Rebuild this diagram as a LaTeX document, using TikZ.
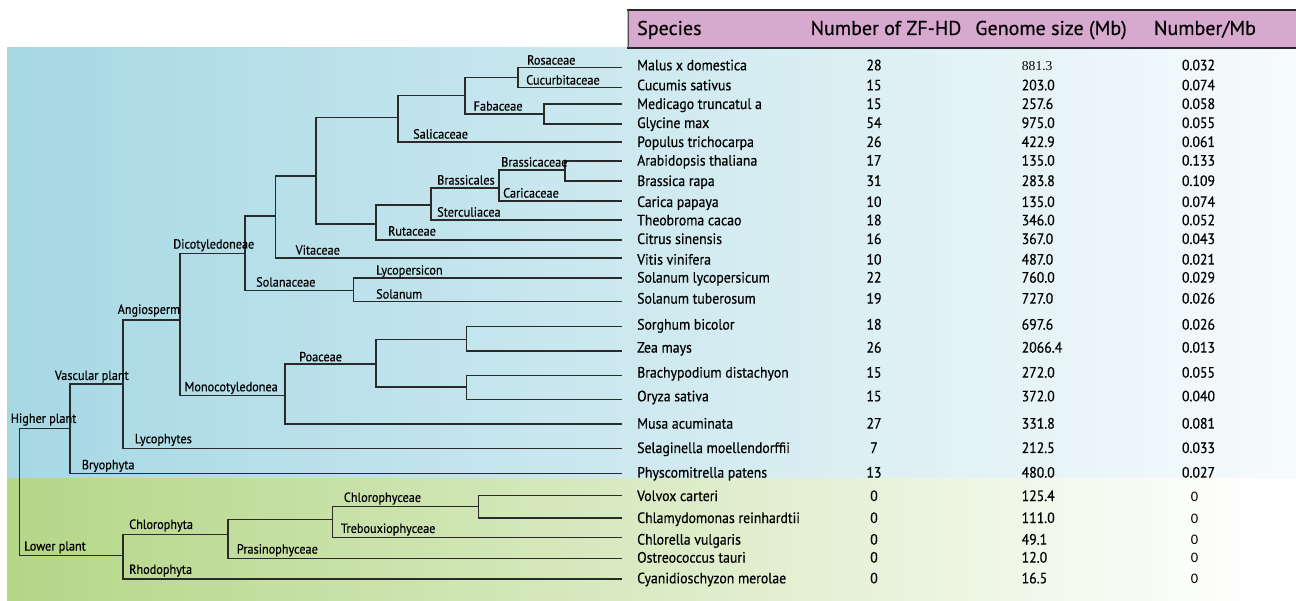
\documentclass[tikz,border=0pt]{standalone}
\usepackage{fontspec}
\setmainfont{PT Sans}[FakeBold=0.35]
\newfontfamily\cond{PT Sans}[FakeStretch=0.92,FakeBold=0.45]
\newfontfamily\serifnum{Liberation Serif}
\newfontfamily\zerofont{Carlito}
\definecolor{hdrpink}{HTML}{D8A9CF}
\definecolor{bluel}{HTML}{A6D8E4}
\definecolor{bluem}{HTML}{CBE7EE}
\definecolor{bluer}{HTML}{F7FBFC}
\definecolor{greenl}{HTML}{B4D687}
\definecolor{greenm}{HTML}{D6E9B8}
\definecolor{treeline}{HTML}{2A2A2A}
\tikzset{
  branch/.style={draw=treeline, line width=1.5pt},
  clade/.style={font=\cond\fontsize{13.3}{15}\selectfont, anchor=base west, inner sep=0pt},
  spname/.style={font=\cond\fontsize{15}{17}\selectfont, anchor=base west, inner sep=0pt},
  numc/.style={font=\cond\fontsize{15}{17}\selectfont, anchor=base, inner sep=0pt},
  gencol/.style={font=\cond\fontsize{15}{17}\selectfont, anchor=base west, inner sep=0pt},
  hdr/.style={font=\fontsize{20}{22}\selectfont, anchor=base, inner sep=0pt},
  hdrrule/.style={draw=black!85, line width=2pt},
}
\begin{document}
\begin{tikzpicture}[x=1pt,y=-1pt]
\useasboundingbox (0,0) rectangle (1296,601);
% background bands
\shade[left color=bluel, middle color=bluem, right color=bluer] (7,47.5) rectangle (1296,478);
\shade[left color=greenl, middle color=greenm, right color=white] (7,478) rectangle (1260,600);
% header
\fill[hdrpink] (627,10) rectangle (1296,48);
\draw[hdrrule] (627,10) -- (1296,10);
\draw[hdrrule] (627,48) -- (1296,48);
\draw[draw=black!70, line width=0.8pt] (628,10) -- (628,48);
\node[hdr, anchor=base west] (hSpecies) at (637,35) {Species};
\node[hdr] (hNum) at (886,35) {Number of ZF-HD};
\node[hdr] (hGen) at (1051,35) {Genome size (Mb)};
\node[hdr] (hRatio) at (1205,35) {Number/Mb};
% leaves
\foreach \nm/\yy in {Malus/67.7, Cucumis/87.3, Medicago/104, Glycine/124, Populus/142,
  Arabid/161, Brassica/181, Carica/201, Theo/220, Citrus/240, Vitis/258, SolLyc/278,
  SolTub/301.7, Sorghum/326.7, Zea/351, Brachy/375.3, Oryza/399.3, Musa/424,
  Selag/448.7, Physco/473.7, Volvox/495.7, Chlamy/518, Chlorella/537.3,
  Ostreo/558.3, Cyanid/579}
  \coordinate (l\nm) at (622,\yy);
% internal nodes
\coordinate (nRC) at (518,77.7);
\coordinate (nFab) at (544,114);
\coordinate (nRCF) at (465,95.3);
\coordinate (nRos) at (398,117.7);
\coordinate (nBrc) at (565,170);
\coordinate (nBrl) at (499,188);
\coordinate (nMal) at (431,205);
\coordinate (nRut) at (376,224);
\coordinate (nRsd) at (316,176);
\coordinate (nVit) at (275.5,216);
\coordinate (nSol) at (353.5,290.7);
\coordinate (nDic) at (245,253.7);
\coordinate (nSZ) at (466.5,339.3);
\coordinate (nBO) at (466.5,387);
\coordinate (nPoa) at (376,364);
\coordinate (nMon) at (285,395.3);
\coordinate (nAng) at (180,320);
\coordinate (nTra) at (123,384);
\coordinate (nHig) at (70,428.7);
\coordinate (nCV) at (478.4,506.7);
\coordinate (nCT) at (332.7,519.7);
\coordinate (nChl) at (227.8,534.7);
\coordinate (nLow) at (123,555.7);
\coordinate (root) at (19.6,492);
\foreach \p/\a/\b in {nRC/lMalus/lCucumis, nFab/lMedicago/lGlycine, nRCF/nRC/nFab,
  nRos/nRCF/lPopulus, nBrc/lArabid/lBrassica, nBrl/nBrc/lCarica, nMal/nBrl/lTheo,
  nRut/nMal/lCitrus, nRsd/nRos/nRut, nVit/nRsd/lVitis, nSol/lSolLyc/lSolTub,
  nDic/nVit/nSol, nSZ/lSorghum/lZea, nBO/lBrachy/lOryza, nPoa/nSZ/nBO,
  nMon/nPoa/lMusa, nAng/nDic/nMon, nTra/nAng/lSelag, nHig/nTra/lPhysco,
  nCV/lVolvox/lChlamy, nCT/nCV/lChlorella, nChl/nCT/lOstreo, nLow/nChl/lCyanid,
  root/nHig/nLow}
  \draw[branch] (\p) |- (\a) (\p) |- (\b);
% clade labels
\node[clade] (tRosaceae) at (527,64.6) {Rosaceae};
\node[clade] (tCucurbitaceae) at (526,84.6) {Cucurbitaceae};
\node[clade] (tFabaceae) at (473.5,110.6) {Fabaceae};
\node[clade] (tSalicaceae) at (413,138.6) {Salicaceae};
\node[clade] (tBrassicaceae) at (501,166.6) {Brassicaceae};
\node[clade] (tBrassicales) at (437,184.6) {Brassicales};
\node[clade] (tCaricaceae) at (503,197.6) {Caricaceae};
\node[clade] (tSterculiacea) at (437,216.6) {Sterculiacea};
\node[clade] (tRutaceae) at (388,235.6) {Rutaceae};
\node[clade] (tVitaceae) at (295.5,254.6) {Vitaceae};
\node[clade] (tDicot) at (173,248.6) {Dicotyledoneae};
\node[clade] (tLycopersicon) at (376,274.6) {Lycopersicon};
\node[clade] (tSolanaceae) at (256,286.6) {Solanaceae};
\node[clade] (tSolanum) at (376,298.6) {Solanum};
\node[clade] (tAngio) at (117.5,313.9) {Angiosperm};
\node[clade] (tPoaceae) at (299,361.3) {Poaceae};
\node[clade] (tMono) at (184.5,391.3) {Monocotyledonea};
\node[clade] (tVascular) at (54.7,379.9) {Vascular plant};
\node[clade] (tHigher) at (10.6,422.9) {Higher plant};
\node[clade] (tLycophytes) at (134.7,443.3) {Lycophytes};
\node[clade] (tBryophyta) at (81.6,469.3) {Bryophyta};
\node[clade] (tChlorophyceae) at (343.7,501.9) {Chlorophyceae};
\node[clade] (tTreboux) at (340.8,532.9) {Trebouxiophyceae};
\node[clade] (tChlorophyta) at (129,528.9) {Chlorophyta};
\node[clade] (tPrasino) at (236.7,553.6) {Prasinophyceae};
\node[clade] (tLower) at (24,550.6) {Lower plant};
\node[clade] (tRhodophyta) at (129,573.9) {Rhodophyta};
% table rows
\foreach \sname/\yy/\cnt/\gsz/\rat [count=\i] in {
  Malus x domestica/65/28//0.032,
  Cucumis sativus/85/15/203.0/0.074,
  Medicago truncatul a/103.7/15/257.6/0.058,
  Glycine max/122.7/54/975.0/0.055,
  Populus trichocarpa/141.7/26/422.9/0.061,
  Arabidopsis thaliana/160.3/17/135.0/0.133,
  Brassica rapa/180.7/31/283.8/0.109,
  Carica papaya/201.7/10/135.0/0.074,
  Theobroma cacao/220/18/346.0/0.052,
  Citrus sinensis/238.7/16/367.0/0.043,
  Vitis vinifera/259.3/10/487.0/0.021,
  Solanum lycopersicum/277.3/22/760.0/0.029,
  Solanum tuberosum/298.3/19/727.0/0.026,
  Sorghum bicolor/324.3/18/697.6/0.026,
  Zea mays/347.3/26/2066.4/0.013,
  Brachypodium distachyon/372.3/15/272.0/0.055,
  Oryza sativa/396/15/372.0/0.040,
  Musa acuminata/423.3/27/331.8/0.081,
  Selaginella moellendorffii/447.7/7/212.5/0.033,
  Physcomitrella patens/472.3/13/480.0/0.027,
  Volvox carteri/495.7/0/125.4/,
  Chlamydomonas reinhardtii/517.7/0/111.0/,
  Chlorella vulgaris/539.3/0/49.1/,
  Ostreococcus tauri/557.3/0/12.0/,
  Cyanidioschyzon merolae/578/0/16.5/}{
  \node[spname] (sp\i) at (637,\yy+5.3) {\sname};
  \node[numc] (cn\i) at (874,\yy+5.3) {\cnt};
  \node[gencol] (gs\i) at (1021.5,\yy+5.3) {\gsz};
  \node[numc] (ra\i) at (1198.5,\yy+5.3) {\rat};
}
\node[font=\serifnum\fontsize{13.6}{15}\selectfont, anchor=base west, inner sep=0pt] (gsMalus) at (1021.7,70.7) {881.3};
\foreach \yy [count=\j] in {495.7,517.7,539.3,557.3,578}
  \node[font=\zerofont\fontsize{14.5}{16}\selectfont, anchor=base, inner sep=0pt] (zr\j) at (1194.6,\yy+5.6) {0};
\end{tikzpicture}
\end{document}
